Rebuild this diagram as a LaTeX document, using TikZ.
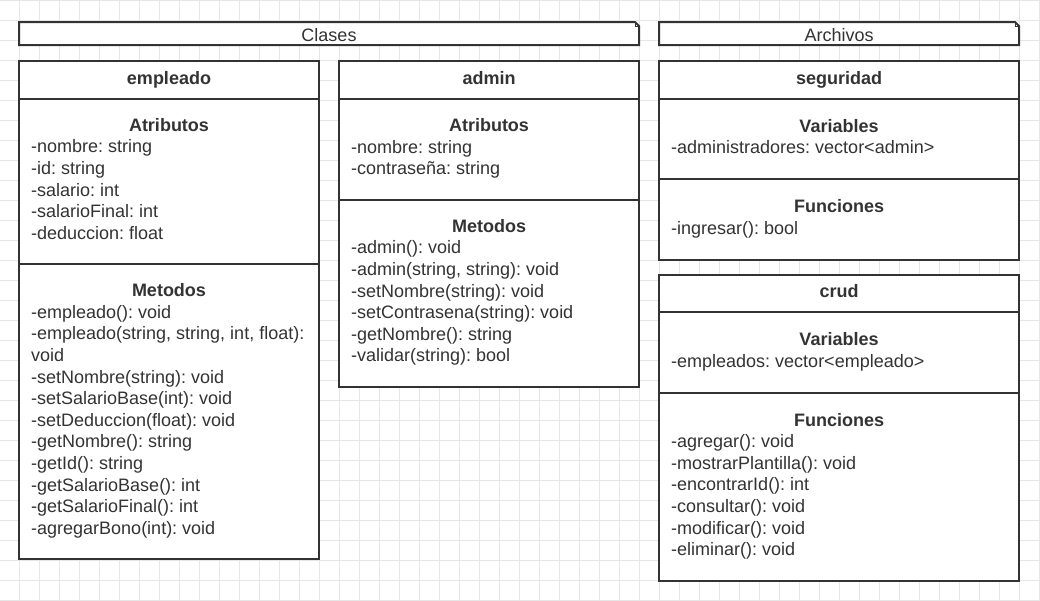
\documentclass[tikz,border=0pt]{standalone}
\usepackage{fontspec}
\setmainfont{Liberation Sans}
\frenchspacing
\definecolor{DiagramInk}{HTML}{333333}
\definecolor{DiagramGrid}{HTML}{E6E6E6}
\tikzset{
  gridline/.style={DiagramGrid,line width=1pt},
  classbox/.style={draw=DiagramInk,fill=white,line width=2pt},
  classline/.style={DiagramInk,line width=2pt},
  classtitle/.style={anchor=base,inner sep=0pt,text=DiagramInk,font=\fontsize{18}{21.6}\selectfont\bfseries},
  pkglabel/.style={anchor=base,inner sep=0pt,text=DiagramInk,font=\fontsize{18}{21.6}\selectfont},
  member/.style={anchor=base west,inner sep=0pt,text=DiagramInk,font=\fontsize{18}{21.6}\selectfont},
}

\begin{document}
\begin{tikzpicture}[x=1pt,y=-1pt]
  \useasboundingbox (0,0) rectangle (1040,600);
  \fill[white] (0,0) rectangle (1040,600);
  % grid
  \foreach \gx in {-1,19,...,1039} \draw[gridline] (\gx,0) -- (\gx,600);
  \foreach \gy in {0,20,...,600} \draw[gridline] (0,\gy) -- (1040,\gy);

  % package labels
  \foreach \xa/\xb/\name in {19/639/Clases, 659/1019/Archivos} {
    \draw[classbox] (\xa,22) -- (\xb-4,22) -- (\xb,26) -- (\xb,45) -- (\xa,45) -- cycle;
    \draw[DiagramInk,line width=1pt] (\xb-4,22) -- (\xb-4,26) -- (\xb,26);
    \node[pkglabel] (pkg-\name) at ({(\xa+\xb)/2},41.7) {\name};
  }

  % empleado
  \draw[classbox] (19,61) rectangle (319,559);
  \draw[classline] (19,99) -- (319,99);
  \draw[classline] (19,264) -- (319,264);
  \node[classtitle] (empleado) at (169,84) {empleado};
  \node[classtitle] (empleado-attr) at (169,131.3) {Atributos};
  \foreach \m [count=\i] in {-nombre: string, -id: string, -salario: int,
    -salarioFinal: int, -deduccion: float}
    \node[member] (empleado-attr-\i) at (31,{131.3+21.6*\i}) {\m};
  \node[classtitle] (empleado-met) at (169,296.6) {Metodos};
  \foreach \m [count=\i] in {-empleado(): void, {-empleado(string, string, int, float):}, void,
    -setNombre(string): void, -setSalarioBase(int): void, -setDeduccion(float): void,
    -getNombre(): string, -getId(): string, -getSalarioBase(): int,
    -getSalarioFinal(): int, -agregarBono(int): void}
    \node[member] (empleado-met-\i) at (31,{296.6+21.6*\i}) {\m};

  % admin
  \draw[classbox] (339,61) rectangle (639,387);
  \draw[classline] (339,99) -- (639,99);
  \draw[classline] (339,200) -- (639,200);
  \node[classtitle] (admin) at (489,84) {admin};
  \node[classtitle] (admin-attr) at (489,131.7) {Atributos};
  \foreach \m [count=\i] in {-nombre: string, -contraseña: string}
    \node[member] (admin-attr-\i) at (351,{131.7+21.6*\i}) {\m};
  \node[classtitle] (admin-met) at (489,232.3) {Metodos};
  \foreach \m [count=\i] in {-admin(): void, {-admin(string, string): void},
    -setNombre(string): void, -setContrasena(string): void,
    -getNombre(): string, -validar(string): bool}
    \node[member] (admin-met-\i) at (351,{232.3+21.6*\i}) {\m};

  % seguridad
  \draw[classbox] (659,61) rectangle (1019,260);
  \draw[classline] (659,99) -- (1019,99);
  \draw[classline] (659,179) -- (1019,179);
  \node[classtitle] (seguridad) at (839,84) {seguridad};
  \node[classtitle] (seguridad-var) at (839,132.3) {Variables};
  \node[member] (seguridad-var-1) at (671,153.9) {-administradores: vector<admin>};
  \node[classtitle] (seguridad-fun) at (839,212.7) {Funciones};
  \node[member] (seguridad-fun-1) at (671,234.3) {-ingresar(): bool};

  % crud
  \draw[classbox] (659,275) rectangle (1019,581);
  \draw[classline] (659,312) -- (1019,312);
  \draw[classline] (659,393) -- (1019,393);
  \node[classtitle] (crud) at (839,297.5) {crud};
  \node[classtitle] (crud-var) at (839,345.8) {Variables};
  \node[member] (crud-var-1) at (671,367.4) {-empleados: vector<empleado>};
  \node[classtitle] (crud-fun) at (839,426) {Funciones};
  \foreach \m [count=\i] in {-agregar(): void, -mostrarPlantilla(): void, -encontrarId(): int,
    -consultar(): void, -modificar(): void, -eliminar(): void}
    \node[member] (crud-fun-\i) at (671,{426+21.6*\i}) {\m};
\end{tikzpicture}
\end{document}
